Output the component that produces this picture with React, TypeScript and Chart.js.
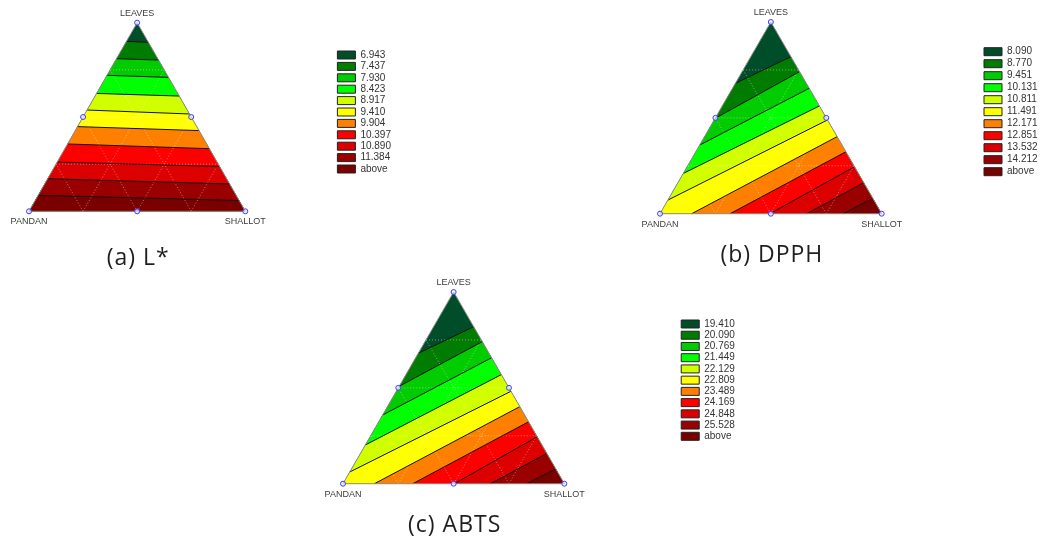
import React, { useEffect, useRef } from 'react';
import { Chart, registerables } from 'chart.js';

Chart.register(...registerables);

// Compositions are [LEAVES %, SHALLOT %]; PANDAN = 100 - LEAVES - SHALLOT.
const vertexLabels = ['LEAVES', 'PANDAN', 'SHALLOT'];
const captions = ['(a) L*', '(b) DPPH', '(c) ABTS'];

const designPoints: [number, number][] = [
  [100, 0], [0, 0], [0, 100], [50, 0], [50, 50], [0, 50],
];
const gridLevels = [25, 50, 75];

const bandColors = [
  '#004d2a', '#007d00', '#00cc00', '#00ff00', '#d2ff00', '#ffff00',
  '#ff8000', '#ff0000', '#dc0000', '#9a0000', '#7a0000',
];

const lStarLevels = ['6.943', '7.437', '7.930', '8.423', '8.917', '9.410', '9.904', '10.397', '10.890', '11.384', 'above'];
const dpphLevels = ['8.090', '8.770', '9.451', '10.131', '10.811', '11.491', '12.171', '12.851', '13.532', '14.212', 'above'];
const abtsLevels = ['19.410', '20.090', '20.769', '21.449', '22.129', '22.809', '23.489', '24.169', '24.848', '25.528', 'above'];

// Contour lines (from the PANDAN side to the SHALLOT side), in [LEAVES %, SHALLOT %]
const lStarContours: [number, number][][] = [
  [[90.1, 0], [89.6, 10.4]],
  [[80.9, 0], [80.2, 19.8]],
  [[72.1, 0], [71.0, 29.0]],
  [[62.5, 0], [61.1, 38.9]],
  [[53.7, 0], [51.6, 48.4]],
  [[44.9, 0], [42.8, 57.2]],
  [[35.7, 0], [33.2, 66.8]],
  [[26.1, 0], [23.8, 76.2]],
  [[17.3, 0], [14.5, 85.5]],
  [[8.5, 0], [5.7, 94.3]],
];

const dpphContours: [number, number][][] = [
  [[68.0, 0], [81.9, 18.1]],
  [[49.7, 0], [74.1, 25.9]],
  [[35.8, 0], [65.4, 34.6]],
  [[21.0, 0], [56.2, 43.8]],
  [[7.1, 0], [48.9, 51.1]],
  [[0, 14.3], [40.2, 59.8]],
  [[0, 31.6], [32.3, 67.7]],
  [[0, 49.6], [24.5, 75.5]],
  [[0, 66.2], [16.2, 83.8]],
  [[0, 82.7], [8.0, 92.0]],
];

const abtsContours: [number, number][][] = [
  [[68.0, 0], [81.9, 18.1]],
  [[50.8, 0], [74.1, 25.9]],
  [[35.8, 0], [65.7, 34.3]],
  [[20.2, 0], [56.9, 43.1]],
  [[6.1, 0], [48.2, 51.8]],
  [[0, 14.2], [40.2, 59.8]],
  [[0, 31.5], [32.3, 67.7]],
  [[0, 50.3], [24.5, 75.5]],
  [[0, 66.6], [15.8, 84.2]],
  [[0, 83.1], [7.7, 92.3]],
];

const SQ = Math.sqrt(3) / 2;
const toXY = ([l, s]: [number, number]) => ({ x: (s + l / 2) / 100, y: (l / 100) * SQ });

const LABEL_FONT = '"Liberation Sans", Arial, sans-serif';

type Layout = {
  left: number; top: number; width: number; height: number;
  legendWidth: number; legendPad: number; boxTop: number;
  pX: number; sX: number; baseY: number; apexY: number; captionY: number;
};

const layouts: Layout[] = [
  { left: 0, top: 0, width: 396, height: 272, legendWidth: 60, legendPad: 1.4, boxTop: 51, pX: 29, sX: 245.3, baseY: 211.3, apexY: 22.7, captionY: 258.3 },
  { left: 630, top: 0, width: 413, height: 272, legendWidth: 61, legendPad: 2, boxTop: 47.7, pX: 30, sX: 251.7, baseY: 213.7, apexY: 22, captionY: 255.8 },
  { left: 320, top: 272, width: 421, height: 268, legendWidth: 61, legendPad: 1.23, boxTop: 48, pX: 23, sX: 244.3, baseY: 211.7, apexY: 20, captionY: 253.8 },
];

const ternaryText = {
  id: 'ternaryText',
  afterDraw(chart: any, _args: any, opts: any) {
    const { ctx } = chart;
    const xs = chart.scales.x;
    const ys = chart.scales.y;
    const apex = toXY([100, 0]);
    const pan = toXY([0, 0]);
    const sha = toXY([0, 100]);
    ctx.save();
    ctx.fillStyle = '#3c3c3c';
    ctx.font = `9px ${LABEL_FONT}`;
    ctx.textAlign = 'center';
    ctx.textBaseline = 'middle';
    ctx.fillText(vertexLabels[0], xs.getPixelForValue(apex.x), ys.getPixelForValue(apex.y) - 9);
    ctx.fillText(vertexLabels[1], xs.getPixelForValue(pan.x), ys.getPixelForValue(pan.y) + 10.6);
    ctx.fillText(vertexLabels[2], xs.getPixelForValue(sha.x), ys.getPixelForValue(sha.y) + 10.6);
    ctx.font = '23px "Open Sans", "Noto Sans", sans-serif';
    ctx.fillStyle = '#1e1e1e';
    try { (ctx as any).letterSpacing = '1px'; } catch (e) { /* ignore */ }
    ctx.fillText(opts.caption, xs.getPixelForValue(apex.x) + 1, opts.captionY);
    ctx.restore();
  },
};

function makeConfig(levels: string[], contours: [number, number][][], caption: string, lay: Layout): any {
  const cw = lay.width - lay.legendWidth;
  const kx = lay.sX - lay.pX;
  const ky = (lay.baseY - lay.apexY) / SQ;
  const xMin = -lay.pX / kx;
  const xMax = (cw - lay.pX) / kx;
  const yMin = -(lay.height - lay.baseY) / ky;
  const yMax = yMin + lay.height / ky;

  const datasets: any[] = [];
  const P: [number, number] = [0, 0];
  const S: [number, number] = [0, 100];
  const L: [number, number] = [100, 0];

  // base triangle = first band
  datasets.push({
    data: [P, S, L].map(toXY), fill: 'shape', backgroundColor: bandColors[0],
    borderWidth: 0, pointRadius: 0, order: 200,
  });
  // each contour's far side painted with the next band colour
  contours.forEach((line, i) => {
    const poly = line.map(toXY);
    poly.push(toXY(S));
    if (line[0][0] > 0) poly.push(toXY(P));
    datasets.push({
      data: poly, fill: 'shape', backgroundColor: bandColors[i + 1],
      borderWidth: 0, pointRadius: 0, order: 199 - i,
    });
  });
  // dotted composition grid
  gridLevels.forEach((v) => {
    const segs: [number, number][][] = [
      [[v, 0], [v, 100 - v]],
      [[0, v], [100 - v, v]],
      [[0, 100 - v], [100 - v, 0]],
    ];
    segs.forEach((seg) => {
      datasets.push({
        data: seg.map(toXY), fill: false, borderColor: 'rgba(255,255,255,0.45)',
        borderWidth: 1, borderDash: [1, 2], pointRadius: 0, order: 50,
      });
    });
  });
  // contour lines
  contours.forEach((line) => {
    datasets.push({
      data: line.map(toXY), fill: false, borderColor: '#111111',
      borderWidth: 1, pointRadius: 0, order: 20,
    });
  });
  // outline
  datasets.push({
    data: [P, S, L, P].map(toXY), fill: false, borderColor: '#8a8a8a',
    borderWidth: 1, pointRadius: 0, order: 10,
  });
  // design points
  datasets.push({
    data: designPoints.map(toXY), showLine: false, fill: false,
    pointRadius: 2.5, pointBorderWidth: 1, pointBorderColor: '#3b3bff',
    pointBackgroundColor: 'rgba(235,235,255,0.7)', pointStyle: 'circle', order: 1,
  });

  return {
    type: 'line',
    data: { datasets },
    plugins: [ternaryText],
    options: {
      animation: false,
      responsive: false,
      devicePixelRatio: 1,
      events: [],
      layout: { padding: 0, autoPadding: false },
      elements: { line: { tension: 0 }, point: { hoverRadius: 0 } },
      scales: {
        x: { type: 'linear', display: false, min: xMin, max: xMax, bounds: 'data' },
        y: { type: 'linear', display: false, min: yMin, max: yMax, bounds: 'data' },
      },
      plugins: {
        tooltip: { enabled: false },
        title: { display: false },
        ternaryText: { caption, captionY: lay.captionY },
        legend: {
          display: true,
          position: 'right',
          align: 'start',
          maxWidth: lay.legendWidth,
          title: {
            display: true, text: '',
            padding: { top: lay.boxTop - 1 - lay.legendPad - 10, bottom: 0 },
            font: { size: 10, lineHeight: 1 },
          },
          labels: {
            boxWidth: 18,
            boxHeight: 8,
            padding: lay.legendPad,
            color: '#333333',
            font: { size: 10, family: LABEL_FONT },
            generateLabels: () => levels.map((t, i) => ({
              text: t, fillStyle: bandColors[i], strokeStyle: '#222222', lineWidth: 1,
              hidden: false, fontColor: '#333333', datasetIndex: i,
            })),
          },
        },
      },
    },
  };
}

function TernaryPanel({ levels, contours, caption, lay }: { levels: string[]; contours: [number, number][][]; caption: string; lay: Layout }) {
  const ref = useRef<HTMLCanvasElement | null>(null);
  useEffect(() => {
    if (!ref.current) return;
    const chart = new Chart(ref.current, makeConfig(levels, contours, caption, lay));
    return () => chart.destroy();
  }, [levels, contours, caption, lay]);
  return (
    <canvas
      ref={ref}
      width={lay.width}
      height={lay.height}
      style={{ position: 'absolute', left: lay.left, top: lay.top, width: lay.width, height: lay.height }}
    />
  );
}

export default function App() {
  return (
    <div style={{ position: 'absolute', left: 0, top: 0, width: 1043, height: 540, background: '#ffffff', overflow: 'hidden' }}>
      <TernaryPanel levels={lStarLevels} contours={lStarContours} caption={captions[0]} lay={layouts[0]} />
      <TernaryPanel levels={dpphLevels} contours={dpphContours} caption={captions[1]} lay={layouts[1]} />
      <TernaryPanel levels={abtsLevels} contours={abtsContours} caption={captions[2]} lay={layouts[2]} />
    </div>
  );
}
